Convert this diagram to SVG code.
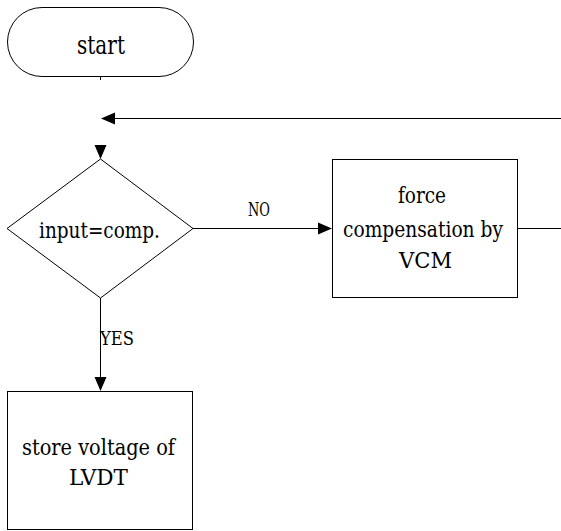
<svg xmlns="http://www.w3.org/2000/svg" width="561" height="531" viewBox="0 0 561 531">
<style>
.s{fill:#fff;stroke:#000;stroke-width:1}
.c{fill:none;stroke:#000;stroke-width:1}
.ah{fill:#000;stroke:none}
.t{font-family:'DejaVu Serif','Liberation Serif',serif;fill:#000;font-size:22px}
.sm{font-size:18px}
.lg{font-size:26px}
</style>
<rect width="561" height="531" fill="#fff"/>
<g id="connectors">
<line class="c" x1="100.5" y1="77" x2="100.5" y2="80"/>
<line class="c" x1="561" y1="118.5" x2="114" y2="118.5"/>
<polygon class="ah" points="101,118.5 115,112.5 115,124.5"/>
<polygon class="ah" points="100.5,159 94.5,145 106.5,145"/>
<line class="c" x1="193" y1="228.5" x2="319" y2="228.5"/>
<polygon class="ah" points="332,228.5 318,222.5 318,234.5"/>
<text class="t sm" x="248" y="216" textLength="22" lengthAdjust="spacingAndGlyphs">NO</text>
<line class="c" x1="518" y1="228.5" x2="561" y2="228.5"/>
<line class="c" x1="100.5" y1="298" x2="100.5" y2="378"/>
<polygon class="ah" points="100.5,391 94.5,377 106.5,377"/>
<text class="t sm" x="100" y="345" textLength="34" lengthAdjust="spacingAndGlyphs">YES</text>
</g>
<g id="start">
<rect class="s" x="7.5" y="7.5" width="186" height="69" rx="34.5"/>
<text class="t lg" x="77" y="54" textLength="48" lengthAdjust="spacingAndGlyphs">start</text>
</g>
<g id="decision">
<polygon class="s" points="100.5,159 193,228.5 100.5,298 7,228.5"/>
<text class="t" x="39" y="238" textLength="121" lengthAdjust="spacingAndGlyphs">input=comp.</text>
</g>
<g id="force">
<rect class="s" x="332.5" y="159.5" width="185" height="138"/>
<text class="t" x="398" y="203" textLength="48" lengthAdjust="spacingAndGlyphs">force</text>
<text class="t" x="343" y="237" textLength="160" lengthAdjust="spacingAndGlyphs">compensation by</text>
<text class="t" x="399" y="268" textLength="53" lengthAdjust="spacingAndGlyphs">VCM</text>
</g>
<g id="store">
<rect class="s" x="7.5" y="391.5" width="185" height="138"/>
<text class="t" x="22" y="455" textLength="153" lengthAdjust="spacingAndGlyphs">store voltage of</text>
<text class="t" x="69" y="485" textLength="59" lengthAdjust="spacingAndGlyphs">LVDT</text>
</g>
</svg>
